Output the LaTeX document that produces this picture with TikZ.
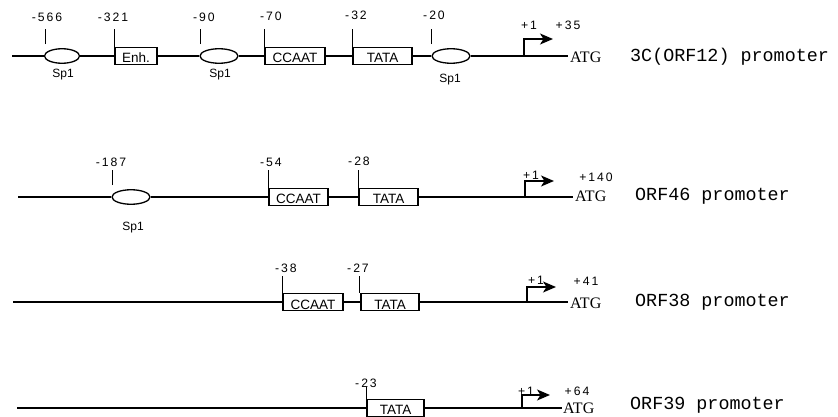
\documentclass[tikz,border=0pt]{standalone}
\usepackage{fontspec}
\usetikzlibrary{shapes.geometric,arrows.meta,calc}
\newfontfamily\numf[LetterSpace=16]{Liberation Sans}
\newfontfamily\boxf{Liberation Sans}
\newfontfamily\tim{Liberation Serif}
\newfontfamily\cour{Liberation Mono}
\begin{document}
\begin{tikzpicture}[x=1pt,y=-1pt,
  dna/.style={line width=1.4pt},
  sp/.style={ellipse,draw,line width=1.3pt,fill=white,minimum width=37pt,minimum height=14.5pt,inner sep=0pt},
  elem/.style={rectangle,draw,line width=1.3pt,fill=white,minimum height=17pt,inner sep=0pt,text height=14pt,text depth=0pt,font=\boxf\fontsize{13.5}{14}\selectfont},
  num/.style={font=\numf\fontsize{12.2}{13}\selectfont,inner sep=0pt},
  spl/.style={font=\boxf\fontsize{12}{13}\selectfont,inner sep=0pt},
  tick/.style={line width=1.2pt},
  atg/.style={font=\tim\fontsize{16}{16}\selectfont,anchor=west,inner sep=0pt},
  prom/.style={font=\cour\fontsize{18.4}{18}\selectfont,anchor=west,inner sep=0pt},
  tss/.style={line width=1.4pt,-{Stealth[length=13pt,width=11pt,inset=3.5pt]}}
]
\useasboundingbox (0,0) rectangle (838,417);
\begin{scope}
\clip (0,0) rectangle (838,417);
% ---------- Row 1 ----------
\coordinate (s1) at (12,56);
\coordinate (t1) at (568,56);
\node[sp,minimum width=35pt] (a1) at (62,56) {};
\node[elem,minimum width=42pt] (b1) at (136,56) {Enh.};
\node[sp,minimum width=38pt] (c1) at (219,56) {};
\node[elem,minimum width=60pt] (d1) at (295,56) {CCAAT};
\node[elem,minimum width=59pt] (e1) at (382.5,56) {TATA};
\node[sp,minimum width=38pt] (f1) at (451,56) {};
\draw[dna] (s1) -- (a1) -- (b1) -- (c1) -- (d1) -- (e1) -- (f1) -- (t1);
\draw[tick] ([xshift=2pt,yshift=4pt]a1.north -| a1.west) -- ++(0,-15);
\draw[tick] (b1.north west) -- ++(0,-18);
\draw[tick] ([xshift=1pt,yshift=4pt]c1.north -| c1.west) -- ++(0,-15);
\draw[tick] (d1.north west) -- ++(0,-18);
\draw[tick] (e1.north west) -- ++(0,-18);
\draw[tick] ([xshift=0pt,yshift=4pt]f1.north -| f1.west) -- ++(0,-15);
\node[num] (n11) at (47,17) {-566};
\node[num] (n12) at (113,17) {-321};
\node[num] (n13) at (204,17) {-90};
\node[num] (n14) at (271,16) {-70};
\node[num] (n15) at (356,15) {-32};
\node[num] (n16) at (434,15) {-20};
\node[spl] (l11) at (63,75) {Sp1};
\node[spl] (l12) at (220,75) {Sp1};
\node[spl] (l13) at (450,80) {Sp1};
\coordinate (p1) at (524,56);
\draw[tss] (p1) -- ++(0,-17) -- ++(29,0);
\node[num] (o1) at (529,25) {+1};
\node[num] (q1) at (568,25) {+35};
\node[atg] (g1) at (570,57) {ATG};
\node[prom] (r1) at (630,57) {3C(ORF12) promoter};
% ---------- Row 2 ----------
\coordinate (s2) at (18,197);
\coordinate (t2) at (573,197);
\node[sp,minimum width=38pt] (a2) at (131,197) {};
\node[elem,minimum width=59pt] (d2) at (298.5,197) {CCAAT};
\node[elem,minimum width=59pt] (e2) at (388.5,197) {TATA};
\draw[dna] (s2) -- (a2) -- (d2) -- (e2) -- (t2);
\draw[tick] ([xshift=1pt,yshift=4pt]a2.north -| a2.west) -- ++(0,-15);
\draw[tick] (d2.north west) -- ++(0,-18);
\draw[tick] (e2.north west) -- ++(0,-18);
\node[num] (n21) at (111,162) {-187};
\node[num] (n22) at (271,162) {-54};
\node[num] (n23) at (359,161) {-28};
\node[spl] (l21) at (133,228) {Sp1};
\coordinate (p2) at (525,197);
\draw[tss] (p2) -- ++(0,-16) -- ++(29,0);
\node[num] (o2) at (531,175) {+1};
\node[num] (q2) at (596,177) {+140};
\node[atg] (g2) at (575,196) {ATG};
\node[prom] (r2) at (635,196) {ORF46 promoter};
% ---------- Row 3 ----------
\coordinate (s3) at (13,302);
\coordinate (t3) at (568,302);
\node[elem,minimum width=60pt] (d3) at (313,302) {CCAAT};
\node[elem,minimum width=58pt] (e3) at (390,302) {TATA};
\draw[dna] (s3) -- (d3) -- (e3) -- (t3);
\draw[tick] (d3.north west) -- ++(0,-17);
\draw[tick] ([xshift=-1pt]e3.north west) -- ++(0,-17);
\node[num] (n31) at (286,268) {-38};
\node[num] (n32) at (358,268) {-27};
\coordinate (p3) at (527,302);
\draw[tss] (p3) -- ++(0,-15) -- ++(29,0);
\node[num] (o3) at (536,280) {+1};
\node[num] (q3) at (586,281) {+41};
\node[atg] (g3) at (570,303) {ATG};
\node[prom] (r3) at (635,302) {ORF38 promoter};
% ---------- Row 4 ----------
\coordinate (s4) at (17,408);
\coordinate (t4) at (562,408);
\node[elem,minimum width=57pt,text height=12.5pt] (e4) at (395.5,408) {TATA};
\draw[dna] (s4) -- (e4) -- (t4);
\draw[tick] (e4.north west) -- ++(0,-12);
\node[num] (n41) at (366,383) {-23};
\coordinate (p4) at (522,408);
\draw[tss] (p4) -- ++(0,-13) -- ++(28,0);
\node[num] (o4) at (526,391) {+1};
\node[num] (q4) at (577,391) {+64};
\node[atg] (g4) at (563,408) {ATG};
\node[prom] (r4) at (630,405) {ORF39 promoter};
\end{scope}
\end{tikzpicture}
\end{document}
